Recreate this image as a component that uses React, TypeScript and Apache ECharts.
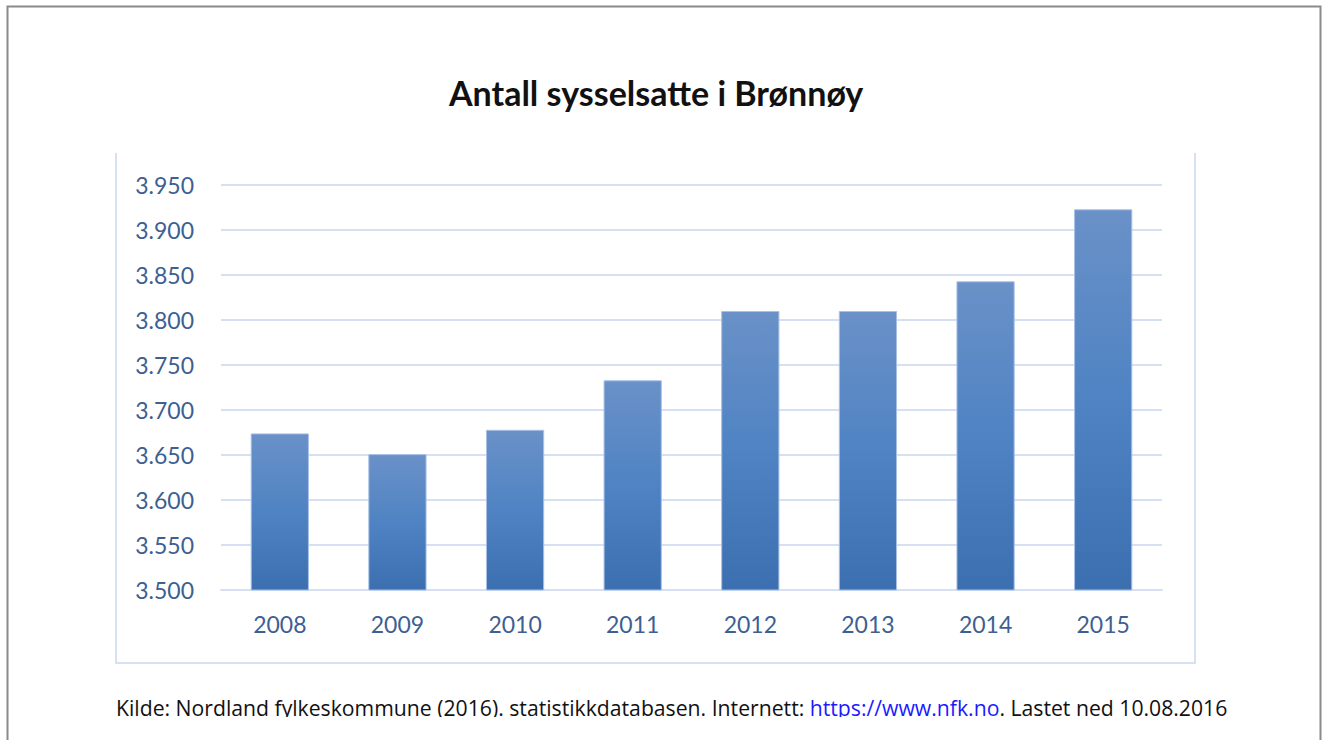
import React, { useEffect, useRef } from "react";
import * as echarts from "echarts";

const years = ["2008", "2009", "2010", "2011", "2012", "2013", "2014", "2015"];
const employed = [3674, 3651, 3678, 3733, 3810, 3810, 3843, 3923];
const yMin = 3500;
const yMax = 3950;
const yStep = 50;
const titleText = "Antall sysselsatte i Brønnøy";
const sourcePre = "Kilde: Nordland fylkeskommune (2016). statistikkdatabasen. Internett: ";
const sourceLink = "https://www.nfk.no";
const sourcePost = ". Lastet ned 10.08.2016";

const fmt = (v: number) => {
  const t = Math.floor(v / 1000);
  const r = String(Math.round(v % 1000)).padStart(3, "0");
  return `${t}.${r}`;
};

export default function App() {
  const ref = useRef<HTMLDivElement>(null);
  useEffect(() => {
    if (!ref.current) return;
    const chart = echarts.init(ref.current, null, { renderer: "svg" });
    const axisColor = "#3d5f92";
    chart.setOption({
      animation: false,
      backgroundColor: "#ffffff",
      title: {
        text: titleText,
        left: 444,
        top: 70,
        textStyle: {
          fontFamily: "Lato",
          fontSize: 34,
          fontWeight: "bold",
          color: "#111111",
        },
      },
      grid: { left: 221, right: 1327 - 1162, top: 185, bottom: 740 - 590 },
      xAxis: {
        type: "category",
        data: years,
        axisTick: { show: false },
        axisLine: { lineStyle: { color: "#d5e1f3", width: 2 } },
        axisLabel: {
          color: axisColor,
          fontFamily: "Lato",
          fontSize: 23,
          margin: 22,
        },
      },
      yAxis: {
        type: "value",
        min: yMin,
        max: yMax,
        interval: yStep,
        axisLine: { show: false },
        axisTick: { show: false },
        splitLine: { lineStyle: { color: "#d5e1f3", width: 2 } },
        axisLabel: {
          color: axisColor,
          fontFamily: "Lato",
          fontSize: 23,
          margin: 27,
          formatter: (v: number) => fmt(v),
        },
      },
      series: [
        {
          type: "bar",
          data: employed,
          barWidth: "49.5%",
          itemStyle: {
            borderColor: "#a8c0e4",
            borderWidth: 1,
            color: new echarts.graphic.LinearGradient(0, 0, 0, 1, [
              { offset: 0, color: "#6a91c8" },
              { offset: 0.5, color: "#4f83c3" },
              { offset: 1, color: "#3c6fb0" },
            ]),
          },
        },
      ],
      graphic: [
        {
          type: "polyline",
          z: 1,
          shape: { points: [[116, 153], [116, 663], [1195, 663], [1195, 153]] },
          style: { stroke: "#d6e2f3", lineWidth: 2, fill: null },
        },
        {
          type: "text",
          z: 5,
          left: 116,
          top: 697,
          style: {
            text: `{a|${sourcePre}}{b|${sourceLink}}{a|${sourcePost}}`,
            rich: {
              a: { fontFamily: "Open Sans", fontSize: 21.2, fill: "#111111" },
              b: { fontFamily: "Open Sans", fontSize: 21.2, fill: "#1a1aff" },
            },
          },
        },
        {
          type: "rect",
          z: 10,
          shape: { x: 9, y: 717, width: 1310, height: 30 },
          style: { fill: "#ffffff" },
        },
        {
          type: "rect",
          z: 20,
          shape: { x: 7.5, y: 6.5, width: 1313, height: 760 },
          style: { fill: null, stroke: "#8a8a8a", lineWidth: 2 },
        },
      ],
    });
    return () => chart.dispose();
  }, []);
  return (
    <div
      ref={ref}
      style={{ position: "fixed", left: 0, top: 0, width: 1327, height: 740 }}
    />
  );
}
